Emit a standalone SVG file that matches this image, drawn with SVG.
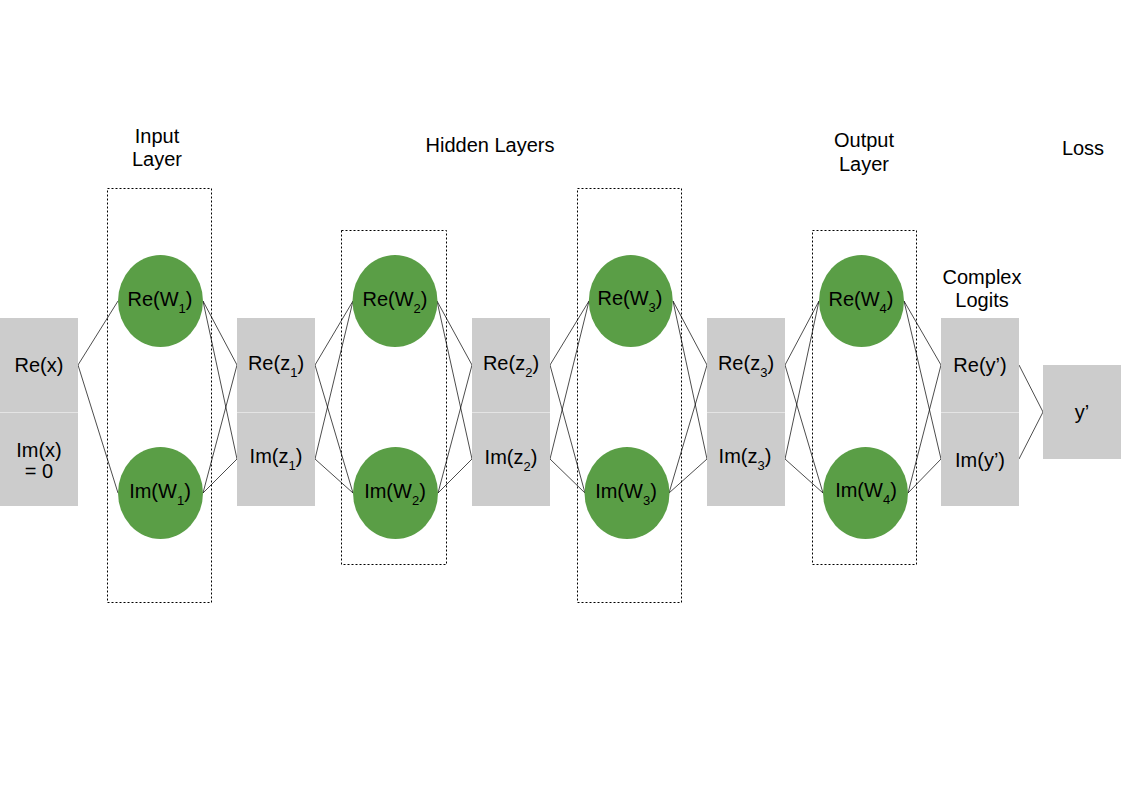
<svg xmlns="http://www.w3.org/2000/svg" width="1123" height="794" viewBox="0 0 1123 794">
<style>
text{font-family:"Liberation Sans",Arial,sans-serif;font-size:20px;fill:#000;text-anchor:middle}
.s{font-size:13px}
.box{fill:#cccccc}
.split{stroke:#e4e4e4;stroke-width:1}
.neuron{fill:#5a9e46}
.layer{fill:none;stroke:#000;stroke-width:1;stroke-dasharray:2,2}
.c line{stroke:#000;stroke-width:0.7}
</style>
<rect width="1123" height="794" fill="#fff"/>
<g id="titles">
<text x="157" y="143">Input</text>
<text x="157" y="166">Layer</text>
<text x="490" y="152">Hidden Layers</text>
<text x="864" y="147">Output</text>
<text x="864" y="171">Layer</text>
<text x="1083" y="155">Loss</text>
<text x="982" y="284">Complex</text>
<text x="982" y="307">Logits</text>
</g>
<g id="layer-frames">
<rect class="layer" x="107.5" y="188.5" width="104" height="414"/>
<rect class="layer" x="341.5" y="230.5" width="105" height="334"/>
<rect class="layer" x="577.5" y="188.5" width="104" height="414"/>
<rect class="layer" x="812.5" y="230.5" width="104" height="334"/>
</g>
<g class="c" id="connectors">
<line x1="78" y1="365" x2="118" y2="301"/>
<line x1="78" y1="365" x2="118" y2="493"/>
<line x1="203" y1="301" x2="237" y2="365"/>
<line x1="203" y1="301" x2="237" y2="459"/>
<line x1="203" y1="493" x2="237" y2="365"/>
<line x1="203" y1="493" x2="237" y2="459"/>
<line x1="315" y1="365" x2="353" y2="301"/>
<line x1="315" y1="365" x2="353" y2="493"/>
<line x1="315" y1="459" x2="353" y2="301"/>
<line x1="315" y1="459" x2="353" y2="493"/>
<line x1="437" y1="301" x2="472" y2="365"/>
<line x1="437" y1="301" x2="472" y2="459"/>
<line x1="438" y1="493" x2="472" y2="365"/>
<line x1="438" y1="493" x2="472" y2="459"/>
<line x1="550" y1="365" x2="589" y2="301"/>
<line x1="550" y1="365" x2="585" y2="493"/>
<line x1="550" y1="459" x2="589" y2="301"/>
<line x1="550" y1="459" x2="585" y2="493"/>
<line x1="673" y1="301" x2="707" y2="365"/>
<line x1="673" y1="301" x2="707" y2="459"/>
<line x1="669" y1="493" x2="707" y2="365"/>
<line x1="669" y1="493" x2="707" y2="459"/>
<line x1="785" y1="365" x2="819" y2="301"/>
<line x1="785" y1="365" x2="823" y2="493"/>
<line x1="785" y1="459" x2="819" y2="301"/>
<line x1="785" y1="459" x2="823" y2="493"/>
<line x1="904" y1="301" x2="941" y2="365"/>
<line x1="904" y1="301" x2="941" y2="459"/>
<line x1="908" y1="493" x2="941" y2="365"/>
<line x1="908" y1="493" x2="941" y2="459"/>
<line x1="1019" y1="365" x2="1043" y2="412"/>
<line x1="1019" y1="459" x2="1043" y2="412"/>
</g>
<g id="input-x">
<rect class="box" x="0" y="318" width="78" height="188"/>
<line class="split" x1="0" y1="412.5" x2="78" y2="412.5"/>
<text x="39" y="372">Re(x)</text>
<text x="39" y="457">Im(x)</text>
<text x="39" y="478">= 0</text>
</g>
<g id="re-w1">
<ellipse class="neuron" cx="160.5" cy="301" rx="42.5" ry="46"/>
<text x="160" y="306">Re(W<tspan class="s" dy="7">1</tspan><tspan dy="-7">)</tspan></text>
</g>
<g id="im-w1">
<ellipse class="neuron" cx="160.5" cy="493" rx="42.5" ry="46"/>
<text x="160" y="498">Im(W<tspan class="s" dy="7">1</tspan><tspan dy="-7">)</tspan></text>
</g>
<g id="z1">
<rect class="box" x="237" y="318" width="78" height="188"/>
<line class="split" x1="237" y1="412.5" x2="315" y2="412.5"/>
<text x="276" y="370">Re(z<tspan class="s" dy="7">1</tspan><tspan dy="-7">)</tspan></text>
<text x="276" y="463">Im(z<tspan class="s" dy="7">1</tspan><tspan dy="-7">)</tspan></text>
</g>
<g id="re-w2">
<ellipse class="neuron" cx="395" cy="301" rx="42.5" ry="46"/>
<text x="395" y="306">Re(W<tspan class="s" dy="7">2</tspan><tspan dy="-7">)</tspan></text>
</g>
<g id="im-w2">
<ellipse class="neuron" cx="395.5" cy="493" rx="42.5" ry="46"/>
<text x="395" y="498">Im(W<tspan class="s" dy="7">2</tspan><tspan dy="-7">)</tspan></text>
</g>
<g id="z2">
<rect class="box" x="472" y="318" width="78" height="188"/>
<line class="split" x1="472" y1="412.5" x2="550" y2="412.5"/>
<text x="511" y="370">Re(z<tspan class="s" dy="7">2</tspan><tspan dy="-7">)</tspan></text>
<text x="511" y="464">Im(z<tspan class="s" dy="7">2</tspan><tspan dy="-7">)</tspan></text>
</g>
<g id="re-w3">
<ellipse class="neuron" cx="630.8" cy="301" rx="42" ry="46"/>
<text x="630" y="305">Re(W<tspan class="s" dy="7">3</tspan><tspan dy="-7">)</tspan></text>
</g>
<g id="im-w3">
<ellipse class="neuron" cx="627" cy="493" rx="42.5" ry="46"/>
<text x="626" y="498">Im(W<tspan class="s" dy="7">3</tspan><tspan dy="-7">)</tspan></text>
</g>
<g id="z3">
<rect class="box" x="707" y="318" width="78" height="188"/>
<line class="split" x1="707" y1="412.5" x2="785" y2="412.5"/>
<text x="746" y="370">Re(z<tspan class="s" dy="7">3</tspan><tspan dy="-7">)</tspan></text>
<text x="745" y="463">Im(z<tspan class="s" dy="7">3</tspan><tspan dy="-7">)</tspan></text>
</g>
<g id="re-w4">
<ellipse class="neuron" cx="861.5" cy="301" rx="42.5" ry="46"/>
<text x="861" y="306">Re(W<tspan class="s" dy="7">4</tspan><tspan dy="-7">)</tspan></text>
</g>
<g id="im-w4">
<ellipse class="neuron" cx="865.5" cy="493" rx="42.5" ry="46"/>
<text x="866" y="497">Im(W<tspan class="s" dy="7">4</tspan><tspan dy="-7">)</tspan></text>
</g>
<g id="logits">
<rect class="box" x="941" y="318" width="78" height="188"/>
<line class="split" x1="941" y1="412.5" x2="1019" y2="412.5"/>
<text x="980" y="372">Re(y’)</text>
<text x="980" y="467">Im(y’)</text>
</g>
<g id="loss">
<rect class="box" x="1043" y="365" width="78" height="94"/>
<text x="1082" y="419">y’</text>
</g>
</svg>
